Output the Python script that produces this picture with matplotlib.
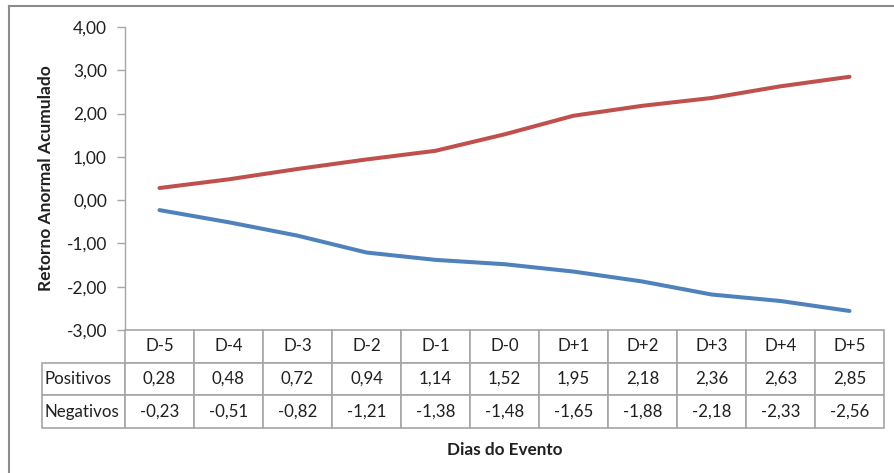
import matplotlib.pyplot as plt
from matplotlib.table import Table
from matplotlib.lines import Line2D
import numpy as np

plt.rcParams['font.family'] = ['Lato', 'DejaVu Sans']

dias = ['D-5', 'D-4', 'D-3', 'D-2', 'D-1', 'D-0', 'D+1', 'D+2', 'D+3', 'D+4', 'D+5']
positivos = [0.28, 0.48, 0.72, 0.94, 1.14, 1.52, 1.95, 2.18, 2.36, 2.63, 2.85]
negativos = [-0.23, -0.51, -0.82, -1.21, -1.38, -1.48, -1.65, -1.88, -2.18, -2.33, -2.56]
y_ticks = [-3, -2, -1, 0, 1, 2, 3, 4]

red = '#C0504D'
blue = '#4F81BD'
grid_grey = '#A6A6A6'
txt = '#202020'


def fmt(v):
    return f'{v:.2f}'.replace('.', ',')


W, H = 895, 473
fig = plt.figure(figsize=(W / 100, H / 100), dpi=100)

# plot area in pixels: x 125..884, y 27..330
ax = fig.add_axes([125 / W, 1 - 330 / H, 759 / W, 303 / H])

x = np.arange(len(dias))
ax.plot(x, positivos, color=red, lw=2.9, solid_capstyle='round', solid_joinstyle='round')
ax.plot(x, negativos, color=blue, lw=2.9, solid_capstyle='round', solid_joinstyle='round')

ax.set_xlim(-0.5, len(dias) - 0.5)
ax.set_ylim(-3, 4)
ax.set_yticks(y_ticks)
ax.set_yticklabels([fmt(v) for v in y_ticks], fontsize=12.5, color=txt)
ax.set_xticks([])
ax.tick_params(axis='y', length=6, width=1, color=grid_grey, pad=7)
for s in ['top', 'right', 'bottom']:
    ax.spines[s].set_visible(False)
ax.spines['left'].set_color(grid_grey)
ax.spines['left'].set_linewidth(1)

ax.set_ylabel('Retorno Anormal Acumulado', fontsize=12.5, fontweight='bold', color=txt)
ax.yaxis.set_label_coords(-0.093, 0.5)

# data table below the plot (bbox covers the data cells; label column sits left of it)
col_w = 69 / 759
lab_w = 83 / 759
row_h = 1 / 3
tbl = Table(ax, bbox=[0, -98 / 303, 1, 98 / 303])
for j, d in enumerate(dias):
    tbl.add_cell(0, j, col_w, row_h, text=d, loc='center')
for i, (name, vals) in enumerate([('Positivos', positivos), ('Negativos', negativos)], start=1):
    tbl.add_cell(i, -1, lab_w, row_h, text=name, loc='left')
    for j, v in enumerate(vals):
        tbl.add_cell(i, j, col_w, row_h, text=fmt(v), loc='center')
tbl.auto_set_font_size(False)
tbl.set_fontsize(12.2)
for (r, c), cell in tbl.get_celld().items():
    cell.set_edgecolor(grid_grey)
    cell.set_linewidth(1.2)
    cell.get_text().set_color(txt)
    cell.PAD = 0.03
ax.add_table(tbl)

fig.text(505 / W, 1 - 450 / H, 'Dias do Evento', ha='center', va='center',
         fontsize=12.3, fontweight='bold', color=txt)

# outer chart frame
fig.add_artist(Line2D([9 / W, 1], [1 - 6 / H, 1 - 6 / H], color='#8C8C8C', lw=1.5))
fig.add_artist(Line2D([9 / W, 9 / W], [0, 1 - 6 / H], color='#8C8C8C', lw=1.5))

fig.savefig('out.png', dpi=100)
